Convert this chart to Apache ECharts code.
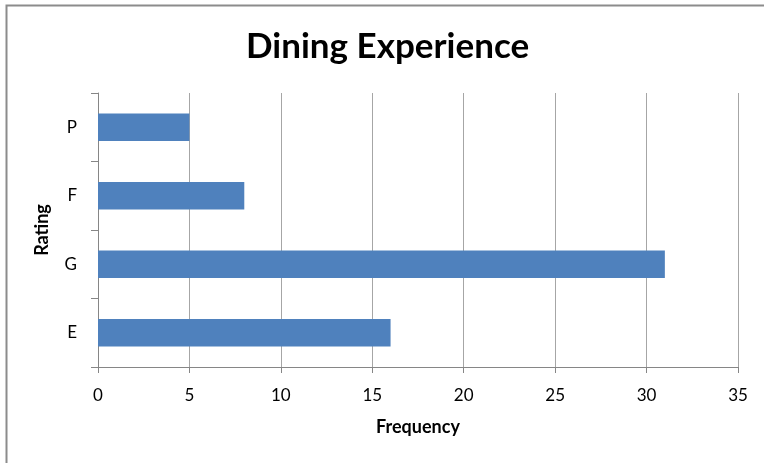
<!DOCTYPE html>
<html>
<head>
<meta charset="utf-8">
<script src="https://cdn.jsdelivr.net/npm/echarts@6/dist/echarts.min.js"></script>
<style>html,body{margin:0;padding:0;background:#fff}#c{width:764px;height:463px}</style>
</head>
<body>
<div id="c"></div>
<script>
const categories = ['E', 'G', 'F', 'P'];
const frequencies = [16, 31, 8, 5];
const xTicks = [0, 5, 10, 15, 20, 25, 30, 35];

const FONT = 'Lato';
const chart = echarts.init(document.getElementById('c'), null, {renderer: 'canvas'});
chart.setOption({
  animation: false,
  backgroundColor: '#ffffff',
  graphic: [
    {type: 'polyline', shape: {points: [[6.5, 470], [6.5, 5.5], [770, 5.5]]},
     style: {stroke: '#8c8c8c', lineWidth: 2, fill: null}, silent: true}
  ],
  title: {
    text: 'Dining Experience', left: 241, top: 24,
    textStyle: {fontFamily: FONT, fontWeight: 'bold', fontSize: 35, color: '#000'}
  },
  grid: {left: 98, right: 26, top: 93, bottom: 96, containLabel: false},
  xAxis: {
    type: 'value', min: xTicks[0], max: xTicks[xTicks.length - 1], interval: 5,
    name: 'Frequency', nameLocation: 'middle', nameGap: 51,
    nameTextStyle: {fontFamily: FONT, fontWeight: 'bold', fontSize: 18, color: '#000'},
    axisLine: {show: true, lineStyle: {color: '#868686', width: 1}},
    axisTick: {show: true, length: 6, lineStyle: {color: '#868686'}},
    axisLabel: {fontFamily: FONT, fontSize: 17, color: '#000', margin: 20},
    splitLine: {show: true, lineStyle: {color: '#a6a6a6', width: 1}}
  },
  yAxis: {
    type: 'category', data: categories,
    name: 'Rating', nameLocation: 'middle', nameGap: 47, nameRotate: 90,
    nameTextStyle: {fontFamily: FONT, fontWeight: 'bold', fontSize: 18, color: '#000'},
    axisLine: {show: true, lineStyle: {color: '#868686', width: 1}},
    axisTick: {show: true, length: 7, lineStyle: {color: '#868686'}},
    axisLabel: {fontFamily: FONT, fontSize: 17, color: '#000', margin: 21},
    splitLine: {show: false}
  },
  series: [{
    type: 'bar', data: frequencies, barCategoryGap: '60%',
    itemStyle: {color: '#4f81bd'}
  }]
});
</script>
</body>
</html>
